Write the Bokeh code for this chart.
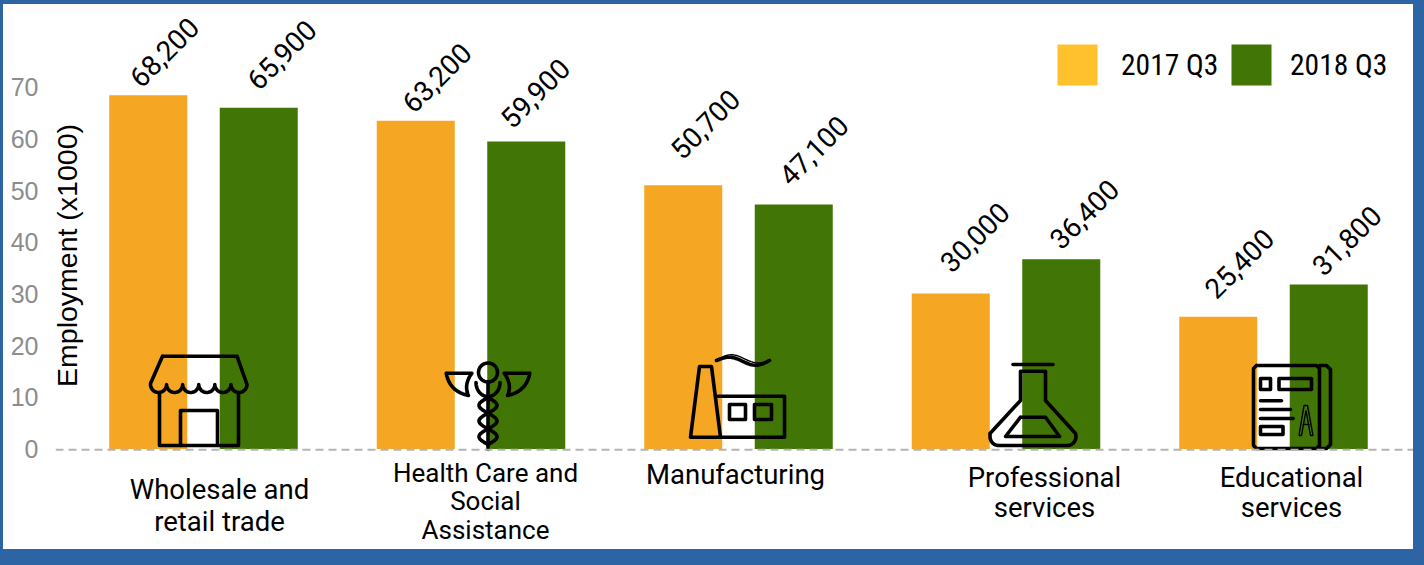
import numpy as np
from bokeh.plotting import figure
from bokeh.embed import file_html
from bokeh.resources import INLINE
from bokeh.core.properties import value
from bokeh.models import (ColumnDataSource, FixedTicker, Span, Legend, LegendItem, Label,
                          GlobalInlineStyleSheet)

# ---- data ----
categories = ["Wholesale and\nretail trade", "Health Care and\nSocial\nAssistance", "Manufacturing",
              "Professional\nservices", "Educational\nservices"]
series_names = ["2017 Q3", "2018 Q3"]
labels_2017 = [68200, 63200, 50700, 30000, 25400]
labels_2018 = [65900, 59900, 47100, 36400, 31800]
bars_2017 = [68.4, 63.5, 51.0, 30.1, 25.6]   # bar heights as drawn in the picture
bars_2018 = [66.0, 59.5, 47.3, 36.7, 31.8]
y_ticks = [0, 10, 20, 30, 40, 50, 60, 70]
y_title = "Employment (x1000)"

# ---- layout (page pixels) ----
ORANGE, GREEN, LEG_ORANGE = "#F5A623", "#417505", "#FFC12E"
BLUE = "#2D64A4"
PX_X0, PX_DX = 203.0, 267.5        # first category centre, category step
PX_Y0, PX_DY = 448.5, 5.17         # zero line, pixels per y unit
FRAME_L, FRAME_R, FRAME_T, FRAME_B = 55, 1413, 4, 549
FIG_L = 3

def X(px):
    return (np.asarray(px, dtype=float) - PX_X0) / PX_DX

def Y(py):
    return (PX_Y0 - np.asarray(py, dtype=float)) / PX_DY

p = figure(width=FRAME_R - FIG_L, height=FRAME_B - FRAME_T,
           x_range=(float(X(FRAME_L)), float(X(FRAME_R))),
           y_range=(float(Y(FRAME_B)), float(Y(FRAME_T))),
           output_backend="svg", toolbar_location=None,
           min_border_left=FRAME_L - FIG_L, min_border_right=0, min_border_top=0, min_border_bottom=0,
           background_fill_color="white", border_fill_color="white", outline_line_color=None)
p.margin = (FRAME_T, 0, 0, FIG_L)
p.styles = {"background-color": "white"}
p.stylesheets = [GlobalInlineStyleSheet(css=f"html,body{{margin:0;padding:0;background:{BLUE};overflow:hidden}}")]
p.grid.visible = False
p.xaxis.visible = False
yax = p.yaxis[0]
yax.ticker = FixedTicker(ticks=y_ticks)
yax.axis_line_color = None
yax.major_tick_line_color = None
yax.minor_tick_line_color = None
yax.major_label_standoff = 11
yax.major_label_text_font = "Liberation Sans"
yax.major_label_text_font_size = "25px"
yax.major_label_text_color = "#8C8C8C"

# bars
BAR_OFF, BAR_W = 55.25 / PX_DX, 78 / PX_DX
idx = np.arange(len(categories))
p.vbar(x=idx - BAR_OFF, top=bars_2017, width=BAR_W, bottom=0, fill_color=ORANGE, line_color=None)
p.vbar(x=idx + BAR_OFF, top=bars_2018, width=BAR_W, bottom=0, fill_color=GREEN, line_color=None)
p.add_layout(Span(location=float(Y(449.2)), dimension="width", line_color="#B4B4B4", line_width=2, line_dash="8 5"))

# data labels
lab_dx = [16, 21, 22, 24, 21, 23, 9, 20, 23, 18]
lab_dy = [-43, -43, -61, -56, -53, -53, -48, -54, -45, -44]
lab_x = np.concatenate([idx - BAR_OFF, idx + BAR_OFF]) + np.array(lab_dx) / PX_DX
lab_y = np.concatenate([bars_2017, bars_2018]) - np.array(lab_dy) / PX_DY
lab_t = [f"{v:,}" for v in labels_2017 + labels_2018]
p.text(x=lab_x, y=lab_y, text=lab_t, angle=np.pi / 4, text_align="center", text_baseline="middle",
       text_font=value("Roboto"), text_font_size="28px", text_color="black")

# category labels
cat_px_x = [219, 485, 735, 1044, 1291]
cat_px_y = [505, 501, 474, 492, 492]
cat_size = ["27.5px", "26px", "27.5px", "27.5px", "27.5px"]
cat_lh = [0.96, 0.945, 1, 0.895, 0.895]
p.text(x=X(cat_px_x), y=Y(cat_px_y), text=categories, text_align="center", text_baseline="middle",
       text_line_height=cat_lh, text_font=value("Roboto"), text_font_size=cat_size, text_color="black")

# y title
p.add_layout(Label(x=66 - FRAME_L, y=FRAME_B - 255, x_units="screen", y_units="screen", text=y_title,
                   angle=np.pi / 2, text_align="center", text_baseline="alphabetic",
                   text_font="Liberation Sans", text_font_size="28.5px", text_color="black"))

# ---- icons, in page pixels ----
thick, thin = [], []

def arc(cx, cy, rx, ry, a0, a1, n=24):
    a = np.radians(np.linspace(a0, a1, n))
    return list(cx + rx * np.cos(a)), list(cy - ry * np.sin(a))

def quad(a, c, b, n=14):
    t = np.linspace(0, 1, n)
    return (list((1 - t) ** 2 * a[0] + 2 * t * (1 - t) * c[0] + t ** 2 * b[0]),
            list((1 - t) ** 2 * a[1] + 2 * t * (1 - t) * c[1] + t ** 2 * b[1]))

def poly(pts, closed=False, store=thick):
    xs = [q[0] for q in pts]
    ys = [q[1] for q in pts]
    if closed:
        xs.append(xs[0]); ys.append(ys[0])
    store.append((xs, ys))

# store
poly([(159, 392), (159, 445), (238, 445), (238, 392)])
poly([(180, 445), (180, 410), (217, 410), (217, 445)])
rx = []; ry = []
edges = np.linspace(150, 246.5, 7)
for a, b in zip(edges[:-1], edges[1:]):
    xs, ys = arc((a + b) / 2, 384, (b - a) / 2, 8, 180, 360)
    rx += xs; ry += ys
thick.append(([162] + [150] + rx + [236.5, 162], [355.7, 383] + ry + [355.7, 355.7]))

# caduceus
CX = 487.5
thick.append(arc(CX, 372, 9.5, 9.5, 0, 360, 40))
poly([(CX, 381), (CX, 449)])
for m in (1, -1):
    ax = lambda v: CX + m * (v - CX)
    q1 = quad((ax(445.7), 372.7), (ax(449), 391), (ax(467.9), 395))
    q2 = quad((ax(467.9), 395), (ax(463), 384), (ax(471.4), 372.7))
    thick.append((q1[0] + q2[0] + [ax(445.7)], q1[1] + q2[1] + [372.7]))
thick.append(arc(CX, 382, 12, 14, 180, 270))
thick.append(arc(CX, 382, 12, 14, 270, 360))
yy = np.linspace(397, 444, 60)
wave = 9 * np.sin(np.pi * (yy - 397) / (47 / 3))
thick.append((list(CX + wave), list(yy)))
thick.append((list(CX - wave), list(yy)))

# factory
poly([(690, 436.7), (699, 366), (711, 366), (720, 436.7), (690, 436.7), (784, 436.7), (784, 395.7), (717.5, 395.7)])
poly([(729, 404), (745, 404), (745, 419), (729, 419)], closed=True)
poly([(754, 404), (771, 404), (771, 419), (754, 419)], closed=True)
sx = np.linspace(716, 769, 30)
env = np.sin((sx - 716) / 53 * np.pi)
sy = 360 - 4 * np.sin((sx - 716) / 53 * 2 * np.pi)
thin.append((list(sx), list(sy - 2.4 * env)))
thick.append((list(sx), list(sy + 1.0 * env)))

# flask
poly([(1012.5, 364), (1052.5, 364)])
fx, fy = arc(1067, 436, 8.5, 9, 0, -90, 10)
gx, gy = arc(998, 436, 8.5, 9, 270, 180, 10)
thick.append(([1020, 1045, 1045, 1075] + fx + gx + [989.5, 1020, 1020],
              [370.7, 370.7, 400, 433] + fy + gy + [433, 400, 370.7]))
poly([(1020, 416.7), (1045, 416.7), (1059, 436), (1005, 436)], closed=True)

# book
poly([(1256, 365), (1316, 365), (1319, 368), (1319, 445), (1316, 448), (1256, 448), (1253, 445), (1253, 368)], closed=True)
poly([(1319, 365), (1326, 365), (1330, 369), (1330, 444), (1326, 448), (1316, 448)])
poly([(1260, 378), (1270, 378), (1270, 389), (1260, 389)], closed=True)
poly([(1278.5, 378), (1311, 378), (1311, 389), (1278.5, 389)], closed=True)
poly([(1260, 400.3), (1281, 400.3)])
poly([(1260, 409), (1290, 409)])
poly([(1260, 418), (1292.5, 418)])
poly([(1260, 426), (1282.5, 426), (1282.5, 434), (1260, 434)], closed=True)
poly([(1298.5, 435), (1303.5, 405), (1307, 405), (1312.5, 435), (1310, 435), (1305.5, 410), (1301, 435)], closed=True, store=thin)
poly([(1302, 424), (1309, 424)], store=thin)

p.multi_line(xs=[list(X(a)) for a, b in thick], ys=[list(Y(b)) for a, b in thick],
             line_color="black", line_width=3.6, line_join="round", line_cap="round")
p.multi_line(xs=[list(X(a)) for a, b in thin], ys=[list(Y(b)) for a, b in thin],
             line_color="black", line_width=1.4)

# legend (the legend glyph fills 80% of its box)
nan_src = ColumnDataSource(data=dict(x=[float("nan")], t=[float("nan")]))
r17 = p.vbar(x="x", top="t", width=1, source=nan_src, fill_color=LEG_ORANGE, line_color=None)
r18 = p.vbar(x="x", top="t", width=1, source=nan_src, fill_color=GREEN, line_color=None)
for name, r, lx, standoff in [(series_names[0], r17, 1057, 19), (series_names[1], r18, 1231, 14)]:
    p.add_layout(Legend(items=[LegendItem(label=name, renderers=[r])],
                        orientation="horizontal", location=(lx - 5 - FRAME_L, FRAME_B - 90),
                        background_fill_alpha=0, border_line_color=None, padding=0, margin=0,
                        glyph_width=50, glyph_height=51, label_standoff=standoff, spacing=0,
                        label_text_font="Roboto Condensed, Roboto", label_text_font_size="29.5px",
                        label_text_color="black", label_height=51), "center")

open("out.html", "w").write(file_html(p, INLINE))
